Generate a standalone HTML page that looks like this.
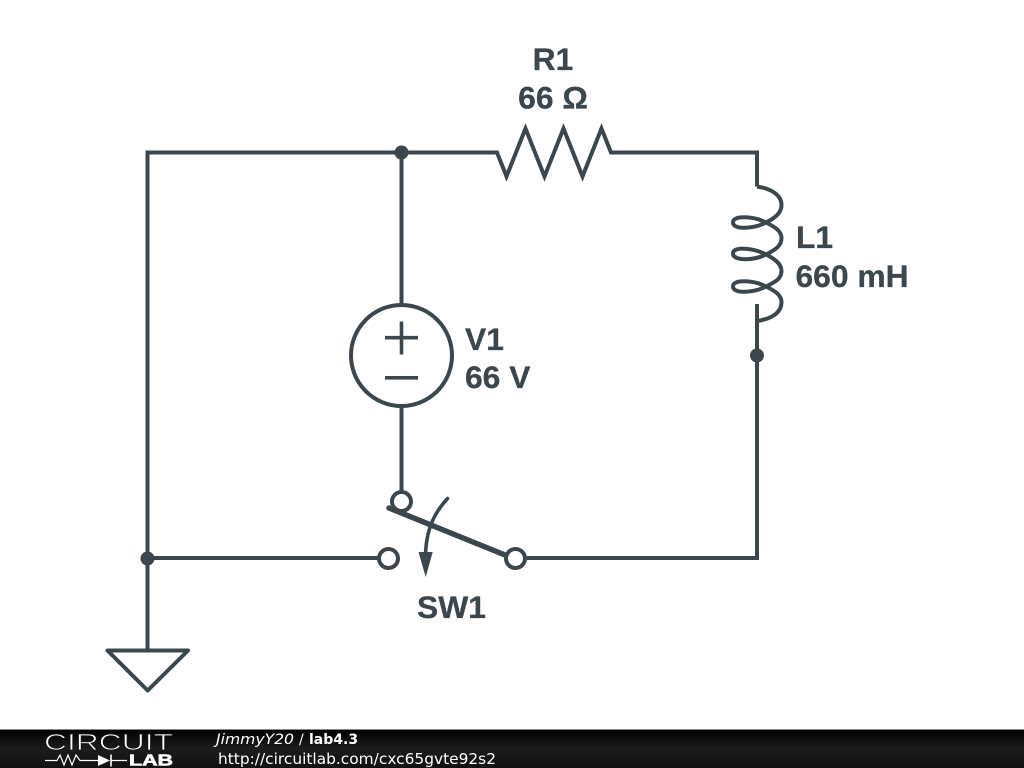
<!DOCTYPE html>
<html>
<head>
<meta charset="utf-8">
<style>
html,body{margin:0;padding:0;background:#fff;width:1024px;height:768px;overflow:hidden}
svg{display:block}
.l{font-family:"Liberation Sans",sans-serif;font-weight:700;font-size:31.8px;fill:#3c474d;stroke:#3c474d;stroke-width:0.3}
.f{font-family:"DejaVu Sans",sans-serif;fill:#fff}
</style>
</head>
<body>
<svg width="1024" height="768" viewBox="0 0 1024 768" xmlns="http://www.w3.org/2000/svg">
<defs>
<linearGradient id="g" x1="0" y1="0" x2="0" y2="1">
<stop offset="0" stop-color="#000"/>
<stop offset="0.5" stop-color="#1c1c1c"/>
<stop offset="1" stop-color="#111"/>
</linearGradient>
</defs>
<rect width="1024" height="768" fill="#fff"/>
<g fill="none" stroke="#3c474d" stroke-width="4" stroke-linejoin="miter">
<path d="M757 321V558H527M378 558H147.500M147.500 650V152.500H497L506.500 176.500L525.500 128.500L544.500 176.500L563.500 128.500L582.500 176.500L601.500 128.500L611 152.500H757V186.500"/>
<path d="M401.500 152.500V305M401.500 406V492"/>
<path d="M757 186.500C773 189 781.500 196 781.500 205C781.500 213 775 218 766 222.500C755 216.500 733 214.500 733 222.500C733 230.500 755 228.500 766 222.500C775 227 781.500 231 781.500 238C781.500 246 775 250 766 254.500C755 248.500 733 245.500 733 253.500C733 261.500 755 260.500 766 254.500C775 259 781.500 264 781.500 271C781.500 279 775 282 766 286.500C755 280.500 733 278.500 733 286.500C733 294.500 755 292.500 766 286.500C775 291 781.500 295 781.500 302C781.500 313 771 319 757 321V304"/>
<circle cx="401.500" cy="355.500" r="50.500"/>
<path d="M385 337.700H418M401.500 321.500V354.500M385 377.800H418" stroke-width="3.600"/>
<circle cx="401.500" cy="501.500" r="9.500"/>
<circle cx="388.500" cy="558.500" r="9.500"/>
<circle cx="515.500" cy="558.500" r="9.500"/>
<path d="M389 508L505 555" stroke-width="5.500" stroke-linecap="round"/>
<path d="M447.500 498.500C436 511 426 527 425.500 556" stroke-width="3.600" stroke-linecap="round"/>
<path d="M107.500 650.500H188L147.700 690.500Z" stroke-linejoin="round"/>
</g>
<path d="M418.500 552L432.700 552L425.700 577Z" fill="#3c474d"/>
<g fill="#3c474d">
<circle cx="401.500" cy="152.500" r="7"/>
<circle cx="757" cy="355.500" r="7"/>
<circle cx="147.500" cy="558.500" r="7"/>
</g>
<text class="l" x="553" y="70" text-anchor="middle">R1</text>
<text class="l" x="553" y="108.500" text-anchor="middle">66 Ω</text>
<text class="l" x="796" y="248">L1</text>
<text class="l" x="795.500" y="287">660 mH</text>
<text class="l" x="465" y="350">V1</text>
<text class="l" x="465" y="388">66 V</text>
<text class="l" x="417" y="618">SW1</text>
<rect x="0" y="729" width="1024" height="39" fill="url(#g)"/>
<rect x="0" y="729" width="1024" height="1" fill="#888"/>
<text x="44" y="750" font-family="'Liberation Sans',sans-serif" font-size="23.500" fill="#fff" stroke="#151515" stroke-width="0.8" textLength="129" lengthAdjust="spacingAndGlyphs">CIRCUIT</text>
<path d="M45 760.500H57L60 755L64 765L68 755L72 765L76 755L80 760.500H98M111 760.500H127" fill="none" stroke="#fff" stroke-width="1.200"/>
<path d="M98 755V766L110 760.500Z" fill="#fff"/>
<path d="M111 754.500V766.500" stroke="#fff" stroke-width="1.600"/>
<text x="129" y="765.500" font-family="'Liberation Sans',sans-serif" font-weight="700" font-size="15.500" fill="#fff" stroke="#fff" stroke-width="0.600" textLength="44" lengthAdjust="spacingAndGlyphs">LAB</text>
<text class="f" x="216" y="744" font-size="14" font-style="oblique" textLength="78" lengthAdjust="spacingAndGlyphs">JimmyY20</text>
<text class="f" x="299" y="744" font-size="14">/</text>
<text class="f" x="309" y="744" font-size="14" font-weight="700">lab4.3</text>
<text class="f" x="218" y="764" font-size="15" textLength="278" lengthAdjust="spacingAndGlyphs">http://circuitlab.com/cxc65gvte92s2</text>
</svg>
</body>
</html>
